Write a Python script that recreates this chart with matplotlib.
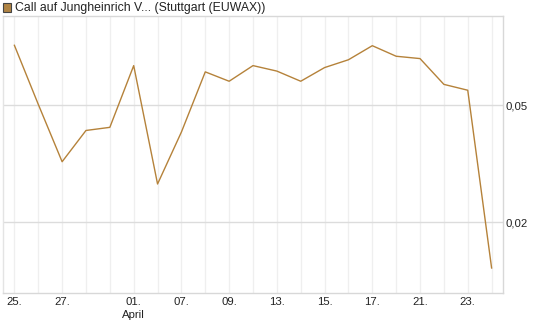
import numpy as np
import matplotlib.pyplot as plt
from matplotlib.patches import Rectangle

# Kursverlauf
values = [0.0653, 0.0502, 0.0355, 0.0435, 0.0443, 0.0601, 0.0298, 0.0431,
          0.0585, 0.0561, 0.0601, 0.0587, 0.0561, 0.0596, 0.0616, 0.0652,
          0.0625, 0.0619, 0.0553, 0.0538, 0.0083]
tick_pos = [0, 2, 5, 7, 9, 11, 13, 15, 17, 19]
tick_labels = ['25.', '27.', '01.\nApril', '07.', '09.', '13.', '15.', '17.', '21.', '23.']
y_ticks = [0.02, 0.05]
y_tick_labels = ['0,02', '0,05']
title = 'Call auf Jungheinrich V... (Stuttgart (EUWAX))'

line_color = '#b5823a'
plt.rcParams['font.family'] = ['Liberation Sans', 'DejaVu Sans']

W, H = 545, 327
fig = plt.figure(figsize=(W / 100, H / 100), dpi=100)
ax = fig.add_axes([2.7 / W, (H - 293) / H, (503.3 - 2.7) / W, (293 - 16) / H])

x = np.arange(len(values))
ax.plot(x, values, color=line_color, lw=1.0)

ax.set_xlim(-0.49, 20.49)
ax.set_ylim(0.0019, 0.0728)

# gitter
for i in x:
    ax.axvline(i, color='#efefef', lw=0.9, zorder=0)
for yv in y_ticks:
    ax.axhline(yv, color='#dcdcdc', lw=1.0, zorder=0)

ax.set_xticks(tick_pos)
ax.set_xticklabels(tick_labels, fontsize=8.2, color='#222222', linespacing=1.35)
ax.set_yticks(y_ticks)
ax.set_yticklabels(y_tick_labels, fontsize=8.2, color='#222222')
ax.yaxis.tick_right()
ax.tick_params(length=0, pad=3)
ax.tick_params(axis='y', pad=1.5)
for s in ax.spines.values():
    s.set_color('#d8d8d8')
    s.set_linewidth(1.0)
ax.spines['left'].set_color('#e4e4e4')

# legende oben links
fig.patches.append(Rectangle((3 / W, (H - 11.5) / H), 8 / W, 8 / H, transform=fig.transFigure,
                             facecolor='#b08444', edgecolor='#444444', lw=0.8))
fig.text(15 / W, (H - 7.5) / H, title, fontsize=8.8, color='#222222', va='center', ha='left')

fig.savefig('out.png', dpi=100)
